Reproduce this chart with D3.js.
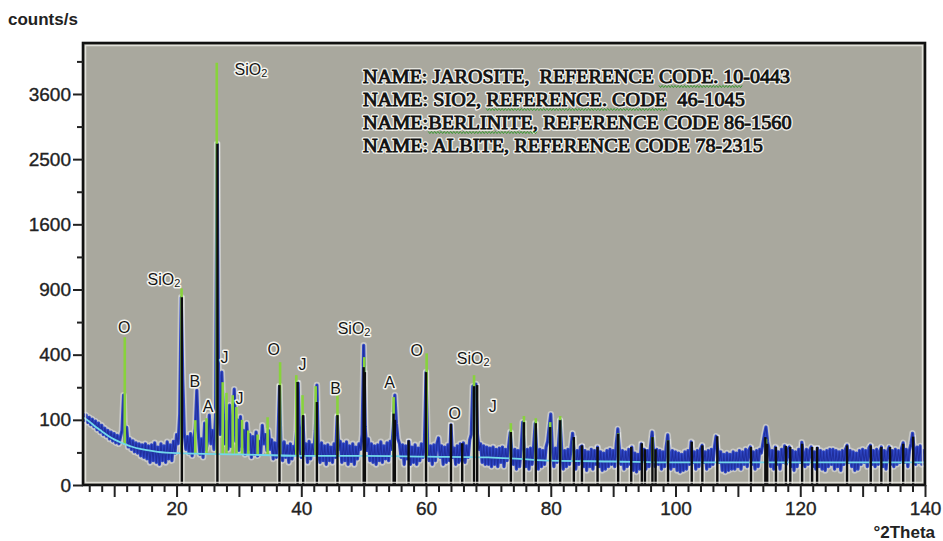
<!DOCTYPE html>
<html><head><meta charset="utf-8">
<script src="https://cdn.jsdelivr.net/npm/d3@7"></script>
<style>body{margin:0;background:#fff}svg{display:block}</style>
</head><body>
<svg id="c" width="943" height="541"></svg>
<script>
// ---------- DATA ----------
const scanStart = 5, scanStep = 0.25;
const scanCounts = [
  122,98,115,92,108,86,102,80,96,72,90,66,84,60,76,56,70,50,66,46,            // 5.00 - 9.75
  62,42,58,40,54,70,190,44,78,34,50,30,46,26,42,24,40,20,38,18,               // 10.00 - 14.75
  40,16,36,12,38,14,42,12,34,10,40,14,36,12,44,16,38,14,45,24,                // 15.00 - 19.75
  60,40,118,830,260,60,30,55,24,62,20,48,75,211,60,22,50,18,90,30,            // 20.00 - 24.75
  48,115,40,70,30,110,2740,150,60,300,120,40,95,30,150,35,80,216,45,100,      // 25.00 - 29.75
  28,110,35,70,22,90,30,60,18,55,22,66,20,45,24,84,40,60,28,70,               // 30.00 - 34.75
  30,48,16,42,18,45,230,30,14,44,18,36,12,40,16,35,22,70,245,30,              // 35.00 - 39.75
  18,110,22,40,12,45,16,38,22,70,235,26,12,42,14,36,10,38,14,34,              // 40.00 - 44.75
  12,40,18,110,30,45,12,40,14,44,10,36,13,40,10,34,16,40,30,60,               // 45.00 - 49.75
  460,80,28,50,14,40,12,36,10,38,14,44,12,36,16,42,14,45,30,80,               // 50.00 - 54.75
  190,90,50,40,18,38,10,36,16,45,10,34,12,38,10,32,14,40,18,45,               // 55.00 - 59.75
  300,40,14,36,10,38,14,40,52,18,36,10,34,12,38,14,85,18,32,10,               // 60.00 - 64.75
  36,12,40,14,42,12,36,18,48,60,230,150,240,60,30,40,12,36,10,34,             // 65.00 - 69.75
  10,32,8,34,10,30,8,32,12,34,8,30,14,36,66,28,10,30,6,28,                    // 70.00 - 74.75
  8,32,93,30,8,30,6,32,10,34,90,28,6,30,8,28,10,34,45,80,                     // 75.00 - 79.75
  118,30,8,32,12,40,99,30,6,28,8,30,10,34,63,26,6,28,10,34,                   // 80.00 - 84.75
  36,8,28,5,26,8,30,6,28,10,34,8,26,5,24,6,28,8,30,10,                        // 85.00 - 89.75
  28,8,40,74,30,10,28,6,26,8,30,10,34,5,24,4,22,6,40,14,                      // 90.00 - 94.75
  30,6,28,8,36,66,24,8,30,10,28,6,26,8,34,59,22,6,28,8,                       // 95.00 - 99.75
  26,5,24,4,22,5,26,6,28,10,44,12,26,6,28,8,30,37,12,26,                      // 100.00 - 104.75
  6,28,8,30,10,34,56,30,12,26,5,22,4,24,5,22,6,26,6,24,                       // 105.00 - 109.75
  8,28,6,26,10,30,8,28,34,10,26,6,28,8,30,24,40,60,79,45,                     // 110.00 - 114.75
  30,8,28,6,34,10,26,6,30,12,36,10,30,34,8,28,5,26,8,30,                      // 115.00 - 119.75
  12,43,22,8,30,10,28,34,8,26,6,32,8,28,6,26,5,28,8,30,                       // 120.00 - 124.75
  10,30,6,28,8,26,5,28,10,30,37,12,28,8,26,5,24,6,28,10,                      // 125.00 - 129.75
  30,12,28,8,32,37,10,28,8,30,10,26,34,8,28,6,26,34,10,28,                    // 130.00 - 134.75
  8,30,10,28,12,32,42,12,30,8,28,40,63,30,10,34,12,36,10,28,                  // 135.00 - 139.75
  20                                                                          // 140.00
];
const bgAngles = [5,6,7,8,9,10,11,12,13,14,15,17,20,30,40,50,60,70,75,80,90,100,140];
const bgCounts = [108,95,80,68,57,49,43,38,34,31,29,26,24,22,20,20,19,18,16,14,13,12,12];

const stickAngles = [20.85,26.55,36.5,39.4,40.3,42.5,45.8,50.0,50.2,54.8,55.0,57.2,60.0,64.0,65.8,67.7,68.2,
  73.6,75.7,77.6,79.9,81.5,83.7,85.0,87.5,90.8,92.9,94.6,95.1,96.3,96.8,98.8,102.6,104.3,106.7,
  112.1,114.4,114.7,116.1,117.7,118.4,120.3,121.9,122.7,127.5,131.3,133.0,134.4,136.5,138.1];
const stickCounts = [830,2740,235,250,115,162,115,327,300,120,100,47,300,88,41,230,235,
  66,93,90,79,99,54,37,34,62,34,41,30,54,30,47,44,37,56,
  34,54,40,34,36,34,40,34,34,37,37,34,34,40,55];

const greenAngles = [11.7,20.8,23.0,24.8,26.45,27.4,28.0,29.0,29.6,30.5,31.5,33.0,34.6,36.6,39.2,40.2,42.3,45.8,
  50.1,54.8,60.1,67.7,73.6,75.7,77.6,79.9,81.5,83.7,90.8,96.3,98.8,114.5];
const greenCounts = [514,910,99,105,4200,249,200,190,143,100,70,60,108,355,284,190,230,190,
  385,182,408,284,90,112,105,93,112,47,63,54,47,50];

const peakLabelTexts  = ["SiO2","SiO2","O","B","A","J","J","O","J","B","SiO2","A","O","O","SiO2","J"];
const peakLabelAngles = [29.3,15.35,11.6,22.95,25.05,27.7,30.1,35.56,40.2,45.5,45.83,54.17,58.5,64.6,64.92,70.7];
const peakLabelCounts = [3958,942,544,226,125,350,154,398,311,195,537,222,392,103,345,125];

const yTickValues = [0,100,400,900,1600,2500,3600];
const yMinorValues = [25,225,625,1225,2025,3025,4225];
const xMajorValues = [10,20,30,40,50,60,70,80,90,100,110,120,130,140];
const xLabelValues = [20,40,60,80,100,120,140];

const legendLines = [
  "NAME: JAROSITE,  REFERENCE CODE. 10-0443",
  "NAME: SIO2, REFERENCE. CODE  46-1045",
  "NAME:BERLINITE, REFERENCE CODE 86-1560",
  "NAME: ALBITE, REFERENCE CODE 78-2315"
];
const legendSquiggles = ["CODE. 10", "REFERENCE. CODE", "BERLINITE,"];

// ---------- LAYOUT ----------
const W = 943, H = 541;
const x = d3.scaleLinear().domain([5,140]).range([83,925]);
const y = d3.scaleSqrt().domain([0,4600]).range([485,43]);
const plotBg = '#a9a89e';
const svg = d3.select('#c');

svg.append('rect').attr('width',W).attr('height',H).attr('fill','#fff');
svg.append('defs').append('clipPath').attr('id','clip').append('rect')
  .attr('x',x(5)).attr('y',y(4600)).attr('width',x(140)-x(5)).attr('height',y(0)-y(4600));
svg.append('rect').attr('x',x(5)).attr('y',y(4600)).attr('width',x(140)-x(5)).attr('height',y(0)-y(4600)).attr('fill',plotBg);

const g = svg.append('g').attr('clip-path','url(#clip)');

const bgAt = a => {
  for (let i=0;i<bgAngles.length-1;i++){
    if (a>=bgAngles[i] && a<=bgAngles[i+1]){
      const t=(a-bgAngles[i])/(bgAngles[i+1]-bgAngles[i]);
      return bgCounts[i]+t*(bgCounts[i+1]-bgCounts[i]);
    }
  }
  return bgCounts[bgCounts.length-1];
};

const sticks = stickAngles.map((a,i)=>({a, c: stickCounts[i]}));
const greens = greenAngles.map((a,i)=>({a, c: greenCounts[i]}));
const scan = scanCounts.map((c,i)=>[scanStart+i*scanStep, c]);
const bg = bgAngles.map((a,i)=>[a, bgCounts[i]]);

// stick halos
g.append('g').selectAll('line').data(sticks).join('line')
  .attr('x1',d=>x(d.a)).attr('x2',d=>x(d.a)).attr('y1',y(0)).attr('y2',d=>y(d.c)-1.5)
  .attr('stroke','#f2f2ee').attr('stroke-width',5.5).attr('stroke-opacity',0.65);

const line = d3.line().x(d=>x(d[0])).y(d=>y(d[1]));
// scan halo + scan
g.append('path').datum(scan).attr('d',line).attr('fill','none')
  .attr('stroke','#eef0f6').attr('stroke-width',6.5).attr('stroke-opacity',0.45).attr('stroke-linejoin','round');
g.append('path').datum(scan).attr('d',line).attr('fill','none')
  .attr('stroke','#3048c6').attr('stroke-width',3.2).attr('stroke-linejoin','round');
g.append('path').datum(scan).attr('d',line).attr('fill','none')
  .attr('stroke','#1a258c').attr('stroke-width',1.1).attr('stroke-opacity',0.7).attr('stroke-linejoin','round');

// green peak lines
g.append('g').selectAll('line').data(greens).join('line')
  .attr('x1',d=>x(d.a)).attr('x2',d=>x(d.a)).attr('y1',d=>y(bgAt(d.a))).attr('y2',d=>y(d.c))
  .attr('stroke','#88d33c').attr('stroke-width',2.6);

// background
g.append('path').datum(bg).attr('d',d3.line().x(d=>x(d[0])).y(d=>y(d[1])).curve(d3.curveMonotoneX))
  .attr('fill','none').attr('stroke','#72d8ea').attr('stroke-width',1.8);

// black sticks
g.append('g').selectAll('line').data(sticks).join('line')
  .attr('x1',d=>x(d.a)).attr('x2',d=>x(d.a)).attr('y1',y(0)).attr('y2',d=>y(d.c))
  .attr('stroke','#0d0d0d').attr('stroke-width',2.4);

// peak labels
const labG = svg.append('g').attr('font-family','Liberation Sans, Arial, sans-serif').attr('font-size',16)
  .attr('fill','#151515').attr('stroke','#f5f5f0').attr('stroke-width',3).attr('paint-order','stroke').attr('stroke-linejoin','round');
peakLabelTexts.forEach((t,i)=>{
  const isSi = t==='SiO2';
  const el = labG.append('text').attr('x',x(peakLabelAngles[i])).attr('y',y(peakLabelCounts[i]))
    .attr('text-anchor', isSi ? 'start' : 'middle');
  if (isSi){
    el.append('tspan').text('SiO');
    el.append('tspan').attr('font-size',11).attr('dy',2).text('2');
  } else el.text(t);
});

// frame
svg.append('rect').attr('x',x(5)+2.5).attr('y',y(4600)+2.5).attr('width',x(140)-x(5)-5).attr('height',y(0)-y(4600)-5)
  .attr('fill','none').attr('stroke','#f0f0ea').attr('stroke-width',1.5).attr('stroke-opacity',0.8);
svg.append('rect').attr('x',x(5)).attr('y',y(4600)).attr('width',x(140)-x(5)).attr('height',y(0)-y(4600))
  .attr('fill','none').attr('stroke','#111').attr('stroke-width',2.6);

// axes
const styleAxis = sel => {
  sel.select('.domain').remove();
  sel.selectAll('line').attr('stroke','#222').attr('stroke-width',2);
  sel.selectAll('text').attr('font-family','Liberation Sans, Arial, sans-serif').attr('font-size',19)
    .attr('fill','#222').attr('stroke','#222').attr('stroke-width',0.35);
};
svg.append('g').attr('transform',`translate(${x(5)},0)`)
  .call(d3.axisLeft(y).tickValues(yTickValues).tickSize(10).tickPadding(2).tickFormat(d3.format('d'))).call(styleAxis);
svg.append('g').attr('transform',`translate(${x(5)},0)`)
  .call(d3.axisLeft(y).tickValues(yMinorValues).tickSize(6).tickFormat('')).call(styleAxis);
svg.append('g').attr('transform',`translate(0,${y(0)})`)
  .call(d3.axisBottom(x).tickValues(xMajorValues).tickSize(12).tickPadding(5)
    .tickFormat(d=>xLabelValues.includes(d)?d:'')).call(styleAxis);
svg.append('g').attr('transform',`translate(0,${y(0)})`)
  .call(d3.axisBottom(x).tickValues(d3.range(6,140,2).filter(d=>d%10!==0)).tickSize(7).tickFormat('')).call(styleAxis);

// axis titles
svg.append('text').attr('x',8).attr('y',25).attr('font-family','Liberation Sans, Arial, sans-serif')
  .attr('font-weight','bold').attr('font-size',17).attr('fill','#222').text('counts/s');
svg.append('text').attr('x',935).attr('y',538).attr('text-anchor','end').attr('font-family','Liberation Sans, Arial, sans-serif')
  .attr('font-weight','bold').attr('font-size',17).attr('fill','#222').text('°2Theta');

// legend text block
const legendX = 363, legendY0 = 83, legendDy = 23;
const legendWidths = [427, 382, 429, 400];
legendLines.forEach((t,i)=>{
  const gy = legendY0 + i*legendDy;
  const mk = () => svg.append('text').attr('x',0).attr('y',0).style('white-space','pre')
    .attr('font-family','Liberation Serif, Times New Roman, serif').attr('font-size',19).text(t);
  const halo = mk().attr('fill','none').attr('stroke','#f2f2ec').attr('stroke-width',3.4).attr('stroke-linejoin','round');
  const el = mk().attr('fill','#111').attr('stroke','#111').attr('stroke-width',0.85);
  const w = el.node().getComputedTextLength();
  const s = legendWidths[i]/w;
  const tr = `translate(${legendX},${gy}) scale(${s},1)`;
  halo.attr('transform',tr); el.attr('transform',tr);
  if (i < legendSquiggles.length){
    const sub = legendSquiggles[i];
    const idx = t.indexOf(sub);
    const x0 = legendX + (idx>0 ? el.node().getSubStringLength(0,idx) : 0)*s;
    const x1 = x0 + el.node().getSubStringLength(idx, sub.length)*s;
    const pts = [];
    for (let xx=x0, k=0; xx<=x1; xx+=1.6, k++) pts.push([xx, gy+3.5+(k%2?1.1:-1.1)]);
    svg.append('path').attr('d',d3.line()(pts)).attr('fill','none').attr('stroke','#3f9a35').attr('stroke-width',1);
  }
});
</script>
</body></html>
